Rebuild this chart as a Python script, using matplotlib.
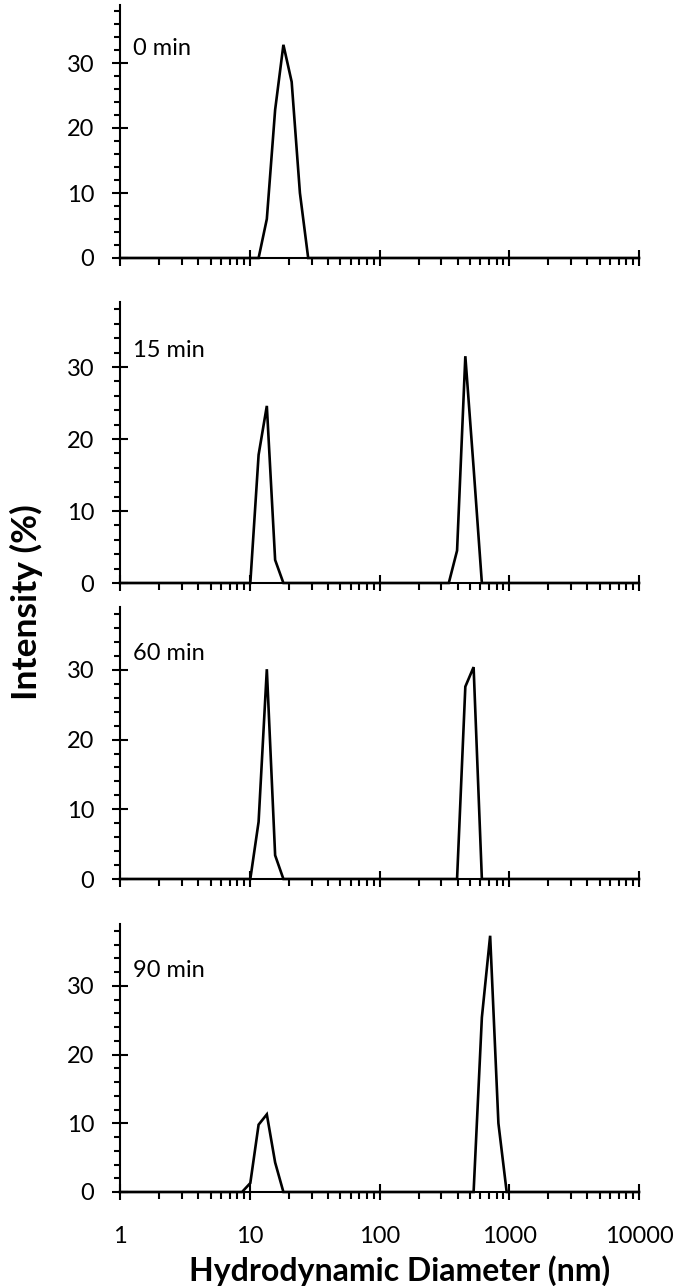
import matplotlib
matplotlib.use("Agg")
import matplotlib.pyplot as plt
from matplotlib.ticker import FixedLocator, NullFormatter, LogLocator, MultipleLocator

plt.rcParams['font.family'] = ['Lato', 'DejaVu Sans']

# ---- data ----
panel_labels = ["0 min", "15 min", "60 min", "90 min"]

size_0 = [1, 11.7, 13.54, 15.69, 18.17, 21.04, 24.36, 28.21, 10000]
int_0 = [0, 0, 6.0, 22.8, 32.8, 27.1, 10.0, 0, 0]

size_15 = [1, 10.1, 11.7, 13.54, 15.69, 18.17, 342.0, 396.1, 458.7, 531.2, 615.1, 10000]
int_15 = [0, 0, 17.8, 24.6, 3.2, 0, 0, 4.5, 31.5, 16.0, 0, 0]

size_60 = [1, 10.1, 11.7, 13.54, 15.69, 18.17, 396.1, 458.7, 531.2, 615.1, 10000]
int_60 = [0, 0, 8.2, 30.1, 3.4, 0, 0, 27.6, 30.4, 0, 0]

size_90 = [1, 8.721, 10.1, 11.7, 13.54, 15.69, 18.17, 531.2, 615.1, 712.4, 825.0, 955.4, 10000]
int_90 = [0, 0, 1.3, 9.8, 11.3, 4.3, 0, 0, 25.4, 37.3, 10.0, 0, 0]

sizes = [size_0, size_15, size_60, size_90]
intensities = [int_0, int_15, int_60, int_90]

x_ticks = [1, 10, 100, 1000, 10000]
x_ticklabels = ["1", "10", "100", "1000", "10000"]
y_ticks = [0, 10, 20, 30]

# ---- layout ----
W, H = 680, 1286
fig = plt.figure(figsize=(W / 100, H / 100), dpi=100)

x_left_px, x_right_px = 120, 639
# (pixel of y=0, pixels per unit)
panel_geom = [(258, 6.5), (583, 7.2), (879, 6.97), (1192, 6.87)]
ymax = 39

for i, (y0, ppu) in enumerate(panel_geom):
    top = y0 - ymax * ppu
    ax = fig.add_axes([x_left_px / W, 1 - y0 / H,
                       (x_right_px - x_left_px) / W, (y0 - top) / H])
    ax.plot(sizes[i], intensities[i], color='black', lw=1.9,
            solid_joinstyle='miter', zorder=3, clip_on=False)
    ax.set_xscale('log')
    ax.set_xlim(1, 10000)
    ax.set_ylim(0, ymax)
    for s in ['top', 'right']:
        ax.spines[s].set_visible(False)
    for s in ['left', 'bottom']:
        ax.spines[s].set_linewidth(1.5)
    ax.xaxis.set_major_locator(FixedLocator(x_ticks))
    ax.xaxis.set_minor_locator(LogLocator(base=10, subs=range(2, 10), numticks=20))
    ax.xaxis.set_minor_formatter(NullFormatter())
    ax.yaxis.set_major_locator(FixedLocator(y_ticks))
    ax.yaxis.set_minor_locator(MultipleLocator(2))
    ax.set_yticklabels([str(v) for v in y_ticks])
    if i == len(panel_geom) - 1:
        ax.set_xticklabels(x_ticklabels)
    else:
        ax.set_xticklabels([])
    ax.tick_params(axis='x', which='major', direction='inout', length=12,
                   width=1.5, labelsize=17, pad=18.5, color='black')
    ax.tick_params(axis='x', which='minor', direction='out', length=5,
                   width=1.5, color='black')
    ax.tick_params(axis='y', which='major', direction='inout', length=12,
                   width=1.5, labelsize=17, pad=12.5, color='black')
    ax.tick_params(axis='y', which='minor', direction='out', length=4.3,
                   width=1.5, color='black')
    ax.text(1.26, 32.3, panel_labels[i], fontsize=17, ha='left', va='center')
    ax.patch.set_visible(False)

fig.text(26 / W, 1 - 602 / H, "Intensity (%)", rotation=90, ha='center',
         va='center', fontsize=25.5, fontweight='bold')
fig.text(400 / W, 1 - 1271 / H, "Hydrodynamic Diameter (nm)", ha='center',
         va='center', fontsize=23, fontweight='bold')

fig.savefig("out.png", dpi=100)
